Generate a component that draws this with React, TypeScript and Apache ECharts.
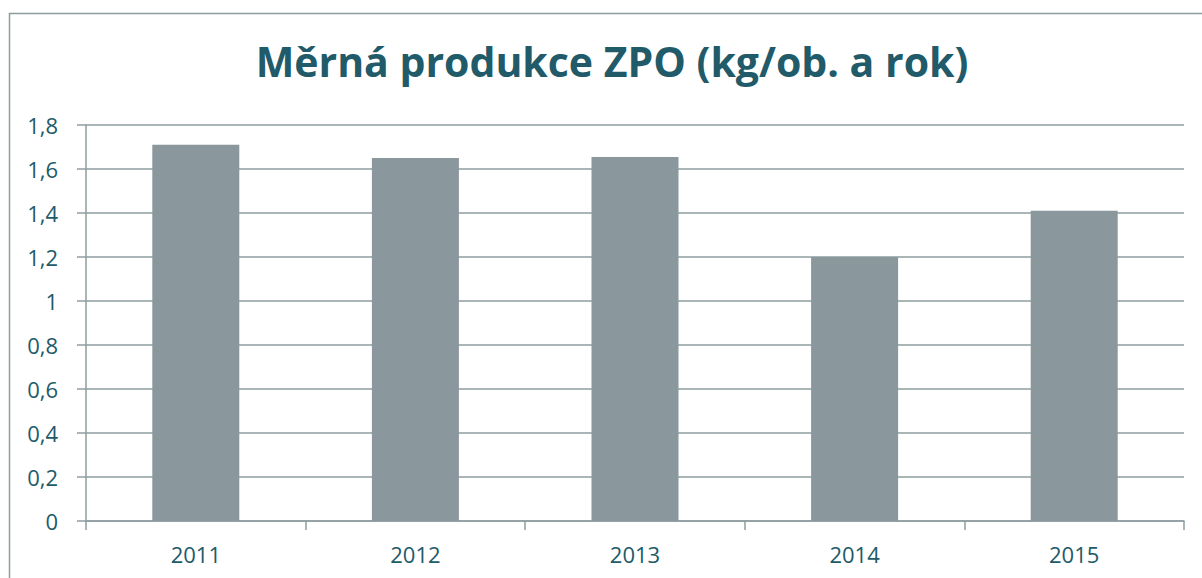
import React, { useEffect, useRef } from "react";
import * as echarts from "echarts";

const categories = ["2011", "2012", "2013", "2014", "2015"];
const values = [1.71, 1.65, 1.655, 1.2, 1.41];
const yTicks = { min: 0, max: 1.8, interval: 0.2 };
const titleText = "Měrná produkce ZPO (kg/ob. a rok)";

export default function App() {
  const ref = useRef<HTMLDivElement>(null);
  useEffect(() => {
    document.body.style.margin = "0";
    const chart = echarts.init(ref.current!, null, { renderer: "svg" });
    const textColor = "#215A69";
    const lineColor = "#8E9CA1";
    chart.setOption({
      animation: false,
      backgroundColor: "#ffffff",
      graphic: [
        {
          type: "rect",
          shape: { x: 9.5, y: 13.5, width: 1400, height: 1000 },
          style: { fill: "none", stroke: "#8E9CA1", lineWidth: 1.5 },
          silent: true,
        },
        {
          type: "text",
          x: 612,
          y: 61,
          style: {
            text: titleText,
            fill: textColor,
            font: "bold 41px 'Open Sans'",
            textAlign: "center",
            textVerticalAlign: "middle",
          },
        },
      ],
      grid: { left: 86, right: 18, top: 125, bottom: 57 },
      xAxis: {
        type: "category",
        data: categories,
        boundaryGap: true,
        axisLine: { show: true, lineStyle: { color: lineColor, width: 1.5 } },
        axisTick: { show: true, length: 9, alignWithLabel: false, lineStyle: { color: lineColor, width: 1.5 } },
        axisLabel: { color: textColor, fontSize: 22, fontFamily: "Open Sans", margin: 22 },
      },
      yAxis: {
        type: "value",
        min: yTicks.min,
        max: yTicks.max,
        interval: yTicks.interval,
        axisLine: { show: true, lineStyle: { color: lineColor, width: 1.5 } },
        axisTick: { show: true, length: 9, lineStyle: { color: lineColor, width: 1.5 } },
        splitLine: { show: true, lineStyle: { color: lineColor, width: 1.5 } },
        axisLabel: {
          color: textColor,
          fontSize: 22,
          fontFamily: "Open Sans",
          margin: 28,
          formatter: (v: number) => String(Math.round(v * 10) / 10).replace(".", ","),
        },
      },
      series: [
        {
          type: "bar",
          data: values,
          barWidth: 87,
          itemStyle: { color: "#8A979D" },
        },
      ],
    });
    return () => chart.dispose();
  }, []);
  return <div ref={ref} style={{ width: 1202, height: 578 }} />;
}
